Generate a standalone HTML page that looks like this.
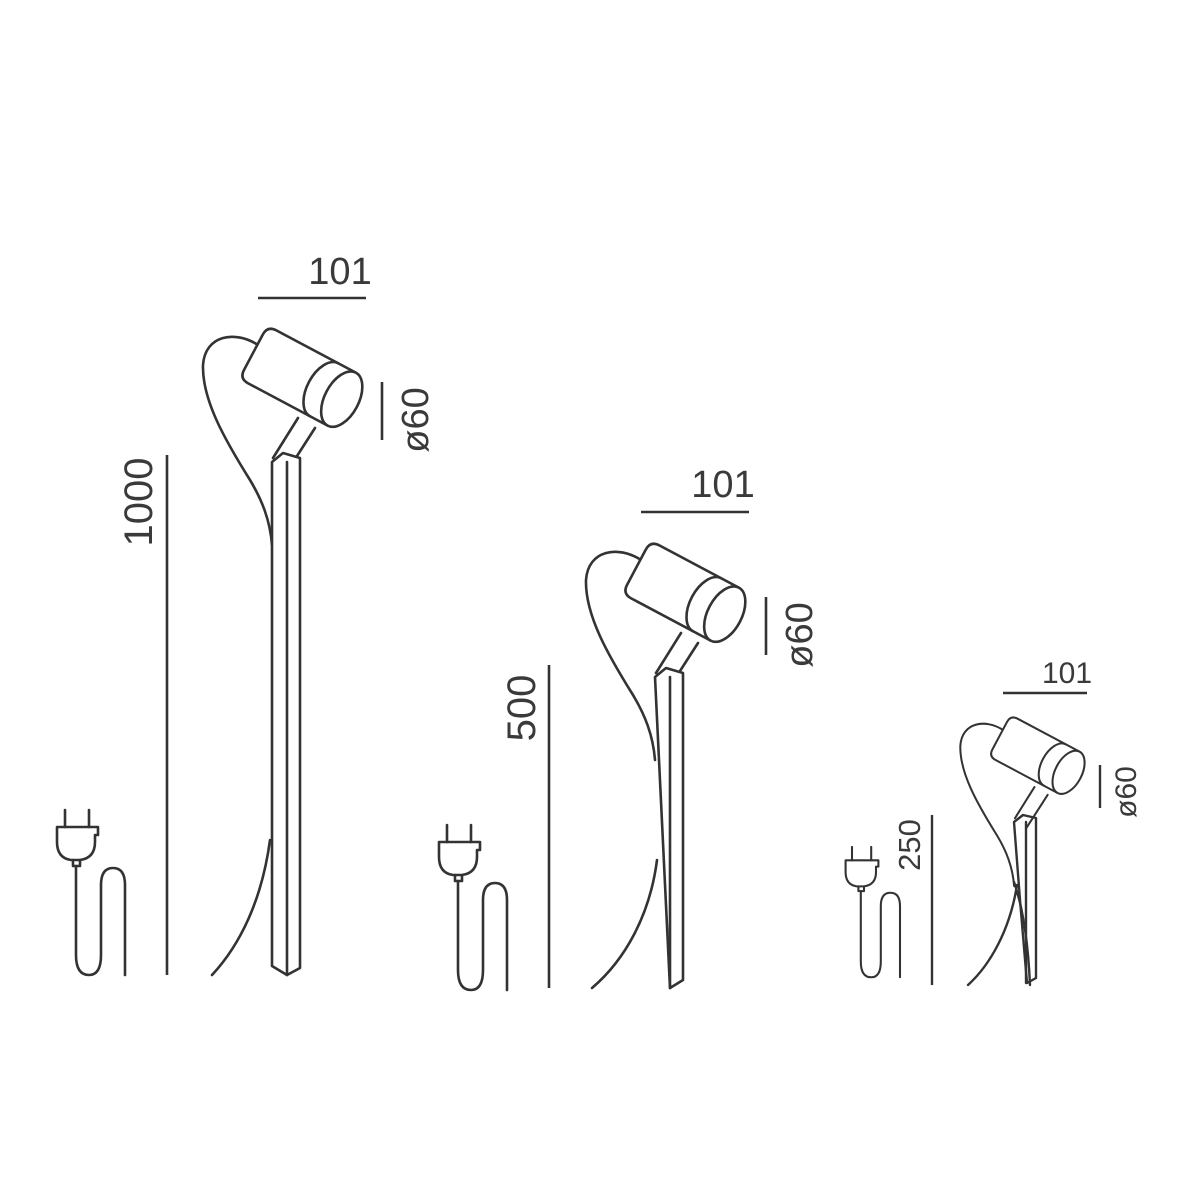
<!DOCTYPE html>
<html><head><meta charset="utf-8"><style>
html,body{margin:0;padding:0;background:#fff}
svg{display:block}
text{font-family:"Liberation Sans",sans-serif;fill:#3a3a3a;font-weight:normal}
</style></head><body>
<svg width="1200" height="1200" viewBox="0 0 1200 1200" xmlns="http://www.w3.org/2000/svg">
<defs>
<g id="head" fill="none" stroke="#333" stroke-width="2.6" stroke-linejoin="round" stroke-linecap="round">
  <path d="M258,345 C235,330 205,335 203,365 C202,400 225,440 250,480 C262,500 270,520 272,545"/>
  <g transform="translate(302,378) rotate(28)">
    <path d="M45,-30 L-45,-30 Q-55,-30 -55,-20 L-55,20 Q-55,30 -45,30 L45,30" fill="#fff"/>
    <path d="M25,-30 A17,30 0 0 0 25,30"/>
    <ellipse cx="45" cy="0" rx="17" ry="30" fill="#fff"/>
  </g>
  <path d="M298,418 L273,458"/>
  <path d="M315,428 L288,470"/>
</g>
<g id="plug" fill="none" stroke="#333" stroke-width="2.6" stroke-linecap="round" stroke-linejoin="round">
  <path d="M65,810 V827 M89,810 V827"/>
  <path d="M57,827 H98 V835 H95 V842 Q95,858 80,860 H71 Q57,858 57,842 V835 H57 Z"/>
  <path d="M73,860 V866 H80 V860"/>
  <path d="M76,866 V955 Q76,975 89,975 Q101,975 101,955 V885 Q101,868 113,868 Q125,868 125,885 V975"/>
</g>
</defs>

<!-- Lamp 1 -->
<use href="#head"/>
<line x1="258" y1="298" x2="366" y2="298" stroke="#333" stroke-width="2.6"/>
<text x="340" y="284" font-size="38" text-anchor="middle">101</text>
<line x1="382" y1="382" x2="382" y2="440" stroke="#333" stroke-width="2.6"/>
<text transform="translate(428,420) rotate(-90)" font-size="38" text-anchor="middle">ø60</text>
<g fill="none" stroke="#333" stroke-width="2.6" stroke-linejoin="round" stroke-linecap="round">
  <path d="M272,462 L283,453 L300,458 V968 L287,975 L272,966 Z" fill="#fff"/>
  <path d="M287,462 V975"/>
  <path d="M270,840 C262,900 240,945 212,975"/>
</g>
<line x1="167" y1="455" x2="167" y2="975" stroke="#333" stroke-width="2.6"/>
<text transform="translate(152,502) rotate(-90)" font-size="40" text-anchor="middle">1000</text>
<use href="#plug"/>

<!-- Lamp 2 -->
<g transform="translate(383,215)"><use href="#head"/></g>
<line x1="641" y1="512" x2="749" y2="512" stroke="#333" stroke-width="2.6"/>
<text x="723" y="497" font-size="38" text-anchor="middle">101</text>
<line x1="766" y1="597" x2="766" y2="655" stroke="#333" stroke-width="2.6"/>
<text transform="translate(812,635) rotate(-90)" font-size="38" text-anchor="middle">ø60</text>
<g fill="none" stroke="#333" stroke-width="2.6" stroke-linejoin="round" stroke-linecap="round">
  <path d="M655,677 L666,668 L683,673 V980 L670,988 Z" fill="#fff"/>
  <path d="M670,677 V988"/>
  <path d="M657,860 C650,915 625,960 592,988"/>
</g>
<line x1="549" y1="665" x2="549" y2="988" stroke="#333" stroke-width="2.6"/>
<text transform="translate(535,708) rotate(-90)" font-size="40" text-anchor="middle">500</text>
<g transform="translate(382,15)"><use href="#plug"/></g>

<!-- Lamp 3 -->
<g transform="translate(802,461) scale(0.78)"><use href="#head"/></g>
<line x1="1003" y1="693" x2="1087" y2="693" stroke="#333" stroke-width="2.4"/>
<text x="1067" y="683" font-size="30" text-anchor="middle">101</text>
<line x1="1100" y1="765" x2="1100" y2="808" stroke="#333" stroke-width="2.4"/>
<text transform="translate(1136,792) rotate(-90)" font-size="30" text-anchor="middle">ø60</text>
<g fill="none" stroke="#333" stroke-width="2.4" stroke-linejoin="round" stroke-linecap="round">
  <path d="M1014,882 C1022,905 1028,940 1030,985"/>
  <path d="M1014,822 L1023,815 L1036,818 V978 L1027,983 L1020,900 Z"/>
  <path d="M1026,822 V983"/>
  <path d="M1017,885 C1010,930 990,965 968,985"/>
</g>
<line x1="932" y1="815" x2="932" y2="985" stroke="#333" stroke-width="2.4"/>
<text transform="translate(920,845) rotate(-90)" font-size="31" text-anchor="middle">250</text>
<g transform="translate(800,207) scale(0.8,0.79)"><use href="#plug"/></g>
</svg>
</body></html>
